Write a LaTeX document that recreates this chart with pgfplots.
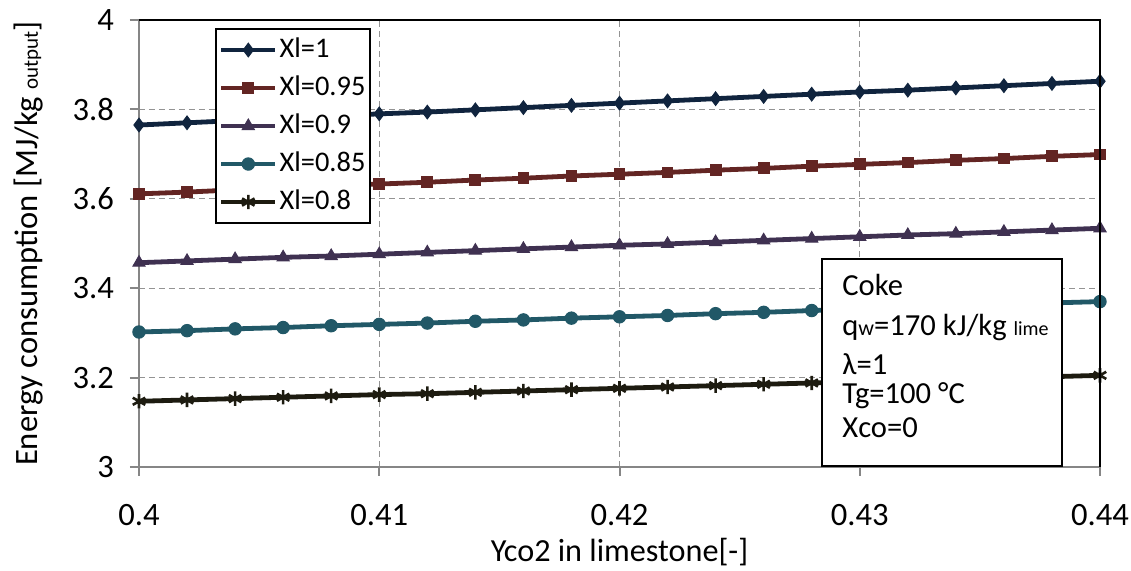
\documentclass[border=0pt]{standalone}
\usepackage{fontspec}
\setmainfont{Carlito}
\usepackage{pgfplots}
\usepackage{pgfplotstable}
\pgfplotsset{compat=1.18}
\definecolor{cA}{HTML}{10243E}
\definecolor{cB}{HTML}{632523}
\definecolor{cC}{HTML}{3F3151}
\definecolor{cD}{HTML}{215867}
\definecolor{cE}{HTML}{1D1B10}
\definecolor{axgray}{HTML}{868686}
\pgfplotstableread{
x a b c d e
0.400 3.765 3.611 3.457 3.302 3.147
0.402 3.770 3.615 3.461 3.305 3.150
0.404 3.775 3.620 3.465 3.309 3.153
0.406 3.780 3.624 3.469 3.312 3.156
0.408 3.785 3.629 3.472 3.316 3.159
0.410 3.790 3.633 3.476 3.319 3.162
0.412 3.794 3.637 3.480 3.322 3.164
0.414 3.799 3.642 3.484 3.326 3.167
0.416 3.804 3.646 3.488 3.329 3.170
0.418 3.809 3.651 3.492 3.333 3.173
0.420 3.814 3.655 3.496 3.336 3.176
0.422 3.819 3.659 3.499 3.339 3.179
0.424 3.824 3.664 3.503 3.343 3.182
0.426 3.829 3.668 3.507 3.346 3.185
0.428 3.834 3.673 3.511 3.350 3.188
0.430 3.839 3.677 3.515 3.353 3.191
0.432 3.843 3.681 3.519 3.356 3.193
0.434 3.848 3.686 3.522 3.360 3.196
0.436 3.853 3.690 3.526 3.363 3.199
0.438 3.858 3.695 3.530 3.367 3.202
0.440 3.863 3.699 3.534 3.370 3.205
}\datatable
\begin{document}
\begin{tikzpicture}
\begin{axis}[
  set layers,
  scale only axis,
  width=480.5pt, height=223.5pt,
  xmin=0.4, xmax=0.44, ymin=3, ymax=4,
  xtick={0.4,0.41,0.42,0.43,0.44},
  ytick={3,3.2,3.4,3.6,3.8,4},
  scaled ticks=false,
  xticklabel style={/pgf/number format/fixed, /pgf/number format/precision=2, yshift=-10.5pt},
  yticklabel style={/pgf/number format/fixed, /pgf/number format/precision=1, xshift=-4.5pt},
  /pgf/number format/assume math mode=true,
  ticklabel style={font=\fontsize{16.3}{18}\selectfont},
  axis x line*=bottom, axis y line*=left,
  axis line style={-, draw=axgray, line width=1pt},
  tick align=outside, major tick length=4.5pt,
  tick style={draw=axgray, line width=1pt},
  grid=major,
  major grid style={draw=gray!85, line width=0.6pt, dash pattern=on 3pt off 2pt},
  clip=false,
  every axis x label/.style={at={(axis description cs:0.5,0)}, yshift=-42.5pt, anchor=center, font=\fontsize{16.1}{18}\selectfont},
  every axis y label/.style={at={(axis description cs:0,0.5)}, xshift=-55pt, rotate=90, anchor=center, font=\fontsize{16.3}{18}\selectfont},
  xlabel={Yco2 in limestone[-]},
  ylabel={Energy consumption [MJ/kg {\fontsize{10.5}{10}\selectfont output}]},
  legend style={at={(axis description cs:0.079,0.982)}, anchor=north west,
    draw=black, line width=1pt, fill=white, font=\fontsize{14.2}{16}\selectfont,
    inner xsep=1.5pt, inner ysep=2.5pt, row sep=3pt,
    nodes={inner sep=1pt, text height=10.5pt, text depth=3.5pt}},
  legend cell align=left,
  legend image code/.code={\draw[mark repeat=2, mark phase=2, #1] plot coordinates {(0pt,0pt) (13.5pt,0pt) (27pt,0pt)};},
]
\addplot[cA, line width=2.4pt, mark=diamond*, mark size=3.4pt, mark options={solid, fill=cA, line width=0.5pt}] table[x=x, y=a] {\datatable};
\addlegendentry{Xl=1}
\addplot[cB, line width=2.4pt, mark=square*, mark size=2.7pt, mark options={solid, fill=cB, line width=0.5pt}] table[x=x, y=b] {\datatable};
\addlegendentry{Xl=0.95}
\addplot[cC, line width=2.4pt, mark=triangle*, mark size=3.5pt, mark options={solid, fill=cC, line width=0.5pt}] table[x=x, y=c] {\datatable};
\addlegendentry{Xl=0.9}
\addplot[cD, line width=2.4pt, mark=*, mark size=3.1pt, mark options={solid, fill=cD, line width=0.5pt}] table[x=x, y=d] {\datatable};
\addlegendentry{Xl=0.85}
\addplot[cE, line width=2.4pt, mark=asterisk, mark size=3.6pt, mark options={solid, line width=1.3pt}] table[x=x, y=e] {\datatable};
\addlegendentry{Xl=0.8}
\begin{pgfonlayer}{axis foreground}
\draw[black, line width=1pt] (rel axis cs:0,1) -- (rel axis cs:1,1) -- (rel axis cs:1,0);
\draw[black, line width=1pt, fill=white] (rel axis cs:0.7107,0.0022) rectangle (rel axis cs:0.9605,0.4653);
\begin{scope}[every node/.style={anchor=base west, inner sep=0pt, font=\fontsize{15.3}{17}\selectfont}]
\node at (rel axis cs:0.7315,0.3826) {Coke};
\node at (rel axis cs:0.7315,0.2931) {q{\fontsize{11}{11}\selectfont w}=170 kJ/kg {\fontsize{10}{10}\selectfont lime}};
\node at (rel axis cs:0.7315,0.2080) {λ=1};
\node at (rel axis cs:0.7315,0.1420) {Tg=100 °C};
\node at (rel axis cs:0.7315,0.0670) {Xco=0};
\end{scope}
\end{pgfonlayer}
\end{axis}
\pgfresetboundingbox
\path (-69.5pt,-52pt) rectangle (496pt,233.5pt);
\end{tikzpicture}
\end{document}
